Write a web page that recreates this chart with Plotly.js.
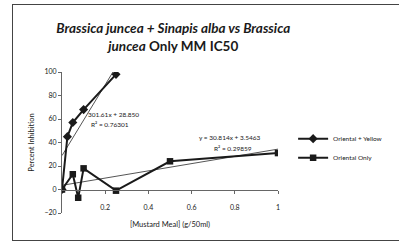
<!DOCTYPE html>
<html><head><meta charset="utf-8">
<script src="https://cdn.plot.ly/plotly-3.0.1.min.js"></script>
<style>
html,body{margin:0;padding:0;background:#fff;}
#frame{position:absolute;left:12px;top:4px;width:400px;height:237px;border:1.5px solid #444;box-sizing:border-box;}
#chart{position:absolute;left:0;top:0;width:399px;height:245px;}
</style></head><body>
<div id="frame"></div>
<div id="chart"></div>
<script>
const yellowX = [0, 0.025, 0.05, 0.1, 0.25];
const yellowY = [0, 45, 57, 68, 98];
const onlyX = [0, 0.05, 0.075, 0.1, 0.25, 0.5, 1];
const onlyY = [0, 13, -7, 18, -1, 24, 31];
const seriesNames = ['Oriental + Yellow', 'Oriental Only'];
const trend1 = {slope: 301.61, intercept: 28.85, x0: 0, x1: 0.25};
const trend2 = {slope: 30.814, intercept: 3.5463, x0: 0, x1: 1};
const xTicks = [0.2, 0.4, 0.6, 0.8, 1];
const yTicks = [-20, 0, 20, 40, 60, 80, 100];

const font = 'Lato, "Open Sans", sans-serif';
const ink = '#1a1a1a';
const traces = [
  {x:[trend1.x0, trend1.x1], y:[trend1.intercept + trend1.slope*trend1.x0, trend1.intercept + trend1.slope*trend1.x1],
   mode:'lines', line:{color:'#555', width:1}, showlegend:false, hoverinfo:'skip'},
  {x:[trend2.x0, trend2.x1], y:[trend2.intercept + trend2.slope*trend2.x0, trend2.intercept + trend2.slope*trend2.x1],
   mode:'lines', line:{color:'#555', width:1}, showlegend:false, hoverinfo:'skip'},
  {x:yellowX, y:yellowY, name:seriesNames[0], mode:'lines+markers',
   line:{color:ink, width:2}, marker:{symbol:'diamond', size:7, color:ink}},
  {x:onlyX, y:onlyY, name:seriesNames[1], mode:'lines+markers',
   line:{color:ink, width:2}, marker:{symbol:'square', size:6.5, color:ink}}
];
const layout = {
  width:399, height:245,
  margin:{l:62, r:111, t:72, b:32},
  paper_bgcolor:'rgba(0,0,0,0)', plot_bgcolor:'rgba(0,0,0,0)',
  font:{family:font, color:ink, size:7},
  title:{text:'<i><b>Brassica juncea + Sinapis alba vs Brassica</b></i><br><i><b>juncea</b></i><b> Only MM IC50</b>',
    x:0.515, xref:'paper', y:0.865, yref:'container', xanchor:'center', yanchor:'top',
    font:{family:font, size:13.5, color:ink}},
  xaxis:{range:[0,1], tickvals:xTicks, ticktext:xTicks.map(String), showgrid:false, zeroline:false,
    showline:true, linecolor:'#666', linewidth:1, ticks:'outside', ticklen:3, tickcolor:'#666',
    anchor:'free', position:(0-(-20))/120, tickfont:{size:7}, ticklabelstandoff:8,
    title:{text:'[Mustard Meal] (g/50ml)', font:{size:7.5}, standoff:11}},
  yaxis:{range:[-20,100], tickvals:yTicks, showgrid:false, zeroline:false,
    showline:true, linecolor:'#666', linewidth:1, ticks:'outside', ticklen:3, tickcolor:'#666',
    tickfont:{size:7}, title:{text:'Percent Inhibition', font:{size:7.5}, standoff:8}},
  legend:{x:1.07, y:0.63, xanchor:'left', yanchor:'top', font:{size:6.5}, tracegroupgap:8,
    bgcolor:'rgba(0,0,0,0)', itemwidth:30},
  showlegend:true,
  annotations:[
    {text:'301.61x + 28.850', x:0.11, y:64, xref:'x', yref:'y', showarrow:false, xanchor:'left', font:{size:6.5}},
    {text:'R² = 0.76301', x:0.125, y:55, xref:'x', yref:'y', showarrow:false, xanchor:'left', font:{size:6.5}},
    {text:'y = 30.814x + 3.5463', x:0.78, y:44, xref:'x', yref:'y', showarrow:false, xanchor:'center', font:{size:6.5}},
    {text:'R² = 0.29859', x:0.79, y:35, xref:'x', yref:'y', showarrow:false, xanchor:'center', font:{size:6.5}}
  ]
};
Plotly.newPlot('chart', traces, layout, {displayModeBar:false, staticPlot:true});
</script>
</body></html>
